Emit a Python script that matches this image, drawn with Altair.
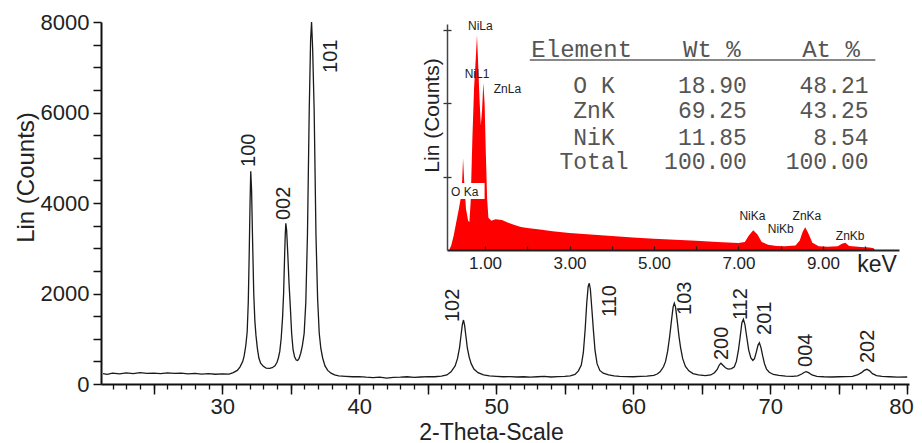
import altair as alt
import pandas as pd

# ---------------- data: XRD pattern (2-theta, counts) ----------------
two_theta = [21.3, 21.6, 22.0, 22.5, 23.0, 23.5, 24.0, 24.5, 25.0, 25.5, 26.0, 26.5, 27.0, 27.5, 28.0, 28.5,
             29.0, 29.5, 30.0, 30.5, 30.8, 31.1, 31.3, 31.5, 31.6, 31.72, 31.82, 31.9, 31.97, 32.03, 32.08,
             32.14, 32.22, 32.3, 32.38, 32.46, 32.56, 32.67, 32.8, 33.0, 33.2, 33.45, 33.65, 33.85, 34.0,
             34.1, 34.2, 34.3, 34.4, 34.48, 34.55, 34.6, 34.64, 34.7, 34.78, 34.88, 34.97, 35.07, 35.17,
             35.28, 35.4, 35.5, 35.6, 35.73, 35.85, 35.98, 36.1, 36.22, 36.35, 36.45, 36.52, 36.6, 36.71,
             36.84, 36.96, 37.08, 37.2, 37.33, 37.5, 37.7, 37.94, 38.2, 38.5, 39.0, 39.5, 40.0, 40.5, 41.0,
             41.5, 42.0, 42.5, 43.0, 43.5, 44.0, 44.5, 45.0, 45.5, 46.0, 46.4, 46.7, 47.0, 47.17, 47.32,
             47.42, 47.52, 47.61, 47.69, 47.79, 47.89, 48.02, 48.17, 48.37, 48.67, 49.07, 49.5, 50.0, 50.5,
             51.0, 51.5, 52.0, 52.5, 53.0, 53.5, 54.0, 54.5, 55.0, 55.4, 55.75, 56.0, 56.21, 56.36, 56.49,
             56.61, 56.71, 56.79, 56.87, 56.97, 57.09, 57.21, 57.36, 57.56, 57.81, 58.2, 58.6, 59.0, 59.5,
             60.0, 60.5, 61.0, 61.5, 61.75, 61.96, 62.21, 62.36, 62.51, 62.66, 62.81, 62.91, 63.0, 63.09,
             63.21, 63.34, 63.46, 63.61, 63.81, 64.06, 64.36, 64.76, 65.26, 65.66, 65.93, 66.13, 66.28,
             66.4, 66.53, 66.73, 66.93, 67.18, 67.38, 67.53, 67.68, 67.81, 67.93, 68.04, 68.15, 68.28,
             68.43, 68.58, 68.73, 68.85, 68.98, 69.11, 69.21, 69.33, 69.45, 69.58, 69.73, 69.93, 70.23,
             70.63, 71.13, 71.63, 72.0, 72.3, 72.5, 72.63, 72.8, 73.05, 73.4, 73.9, 74.5, 75.0, 75.5, 76.0,
             76.36, 76.66, 76.86, 77.06, 77.26, 77.46, 77.76, 78.16, 78.7, 79.3, 80.0]
counts = [230, 215, 240, 225, 245, 230, 250, 235, 240, 230, 245, 235, 240, 225, 235, 220,
          230, 215, 225, 220, 250, 300, 380, 500, 620, 850, 1150, 1800, 2900, 4000, 4700,
          4300, 3100, 2000, 1400, 1080, 800, 580, 460, 390, 350, 345, 360, 400, 480,
          580, 720, 1000, 1450, 2000, 2800, 3300, 3550, 3400, 2900, 2200, 1700, 1100, 760,
          600, 530, 520, 560, 680, 850, 1120, 1800, 3300, 6050, 7600, 8000, 7400, 6050,
          3320, 1900, 1120, 780, 575, 400, 300, 240, 200, 180, 170, 160, 165, 150, 140,
          150, 130, 145, 150, 160, 145, 155, 165, 160, 175, 200, 270, 400, 560, 800,
          1050, 1300, 1414, 1300, 1050, 800, 600, 450, 330, 250, 200, 180, 170, 160,
          165, 155, 160, 150, 160, 170, 155, 165, 170, 180, 210, 290, 420, 700, 1200,
          1800, 2150, 2225, 2100, 1700, 1200, 750, 450, 300, 240, 200, 180, 170, 165,
          160, 170, 175, 190, 220, 270, 380, 500, 720, 1050, 1450, 1700, 1785, 1700,
          1400, 1050, 800, 560, 390, 290, 230, 200, 185, 200, 250, 320, 420,
          460, 420, 360, 330, 340, 380, 500, 750, 1050, 1350, 1430, 1320, 1050,
          750, 580, 520, 560, 700, 860, 910, 800, 620, 450, 330, 260, 210,
          190, 175, 170, 180, 220, 260, 272, 250, 200, 170, 160, 155, 160, 165, 170,
          200, 250, 300, 325, 290, 230, 185, 170, 160, 150, 155]

hkl = ["100", "002", "101", "102", "110", "103", "200", "112", "201", "004", "202"]
hkl_x = [31.97, 34.49, 37.96, 46.82, 58.28, 63.80, 66.46, 67.85, 69.64, 72.59, 77.12]
hkl_y = [4796, 3624, 6873, 1370, 1481, 1525, 530, 1414, 1083, 376, 464]

# ---------------- data: EDS spectrum (keV, counts) ----------------
kev = [0.15, 0.2, 0.26, 0.32, 0.38, 0.43, 0.46, 0.48, 0.51, 0.55, 0.6, 0.63, 0.66, 0.7, 0.74, 0.78,
       0.81, 0.84, 0.87, 0.9, 0.93, 0.96, 0.99, 1.02, 1.05, 1.08, 1.15, 1.25, 1.4, 1.55, 1.7, 1.85,
       2.0, 2.3, 2.6, 3.0, 3.5, 4.0, 4.5, 5.0, 5.5, 6.0, 6.5, 7.0, 7.15, 7.25, 7.35, 7.45, 7.55, 7.7,
       7.9, 8.1, 8.35, 8.45, 8.52, 8.58, 8.65, 8.75, 8.9, 9.1, 9.35, 9.45, 9.53, 9.62, 9.9, 10.1,
       10.2, 10.23]
eds = [0, 60, 200, 380, 560, 720, 950, 1250, 900, 560, 400, 380, 650, 1500, 2200, 2600,
       2930, 2500, 2050, 1700, 1900, 2280, 2000, 1300, 700, 440, 400, 420, 410, 370, 340, 315,
       300, 280, 255, 230, 210, 190, 170, 155, 140, 125, 110, 95, 110, 200, 270, 210, 110, 70,
       55, 50, 60, 130, 250, 310, 230, 100, 50, 45, 50, 85, 100, 55, 40, 35,
       25, 0]

eds_lines = ["NiLa", "NiL1", "ZnLa", "O Ka", "NiKa", "NiKb", "ZnKa", "ZnKb"]
eds_line_kev = [0.89, 0.81, 1.53, 0.52, 7.33, 8.0, 8.62, 9.645]
eds_line_cnt = [2998, 2344, 2139, 736, 409, 232, 409, 136]

# ---------------- data: composition table ----------------
elements = ["O K", "ZnK", "NiK", "Total"]
wt_pct = [18.90, 69.25, 11.85, 100.00]
at_pct = [48.21, 43.25, 8.54, 100.00]
headers = ["Element", "Wt %", "At %"]

# ---------------- layout (inset coordinates are keV / counts) ----------------
W, H = 808, 362
SANS = "Liberation Sans, Arial, sans-serif"
MONO = "Courier New, Liberation Mono, monospace"
row_c = [2145, 1798, 1431, 1100]
head_c = 2634
head_k = [3.29, 6.37, 9.19]
col_elem_k, col_wt_k, col_at_k = 3.58, 7.2, 10.08

xs_main = alt.Scale(domain=[21.15, 80.13], nice=False, zero=False)
ys_main = alt.Scale(domain=[0, 8000], nice=False, zero=False)
xs_in = alt.Scale(domain=[0.1, 10.8], range=[346, 798], nice=False, zero=False)
ys_in = alt.Scale(domain=[0, 3080], range=[228, 2], nice=False, zero=False)

df_main = pd.DataFrame({"t": two_theta, "c": counts})
df_hkl = pd.DataFrame({"x": hkl_x, "y": hkl_y, "hkl": hkl})
df_eds = pd.DataFrame({"k": kev, "c": eds})
df_lines = pd.DataFrame({"k": eds_line_kev, "c": eds_line_cnt, "name": eds_lines})
df_box = pd.DataFrame({"x0": [0.12], "x1": [0.99], "y0": [694], "y1": [912]})

df_head = pd.DataFrame({"k": head_k, "c": [head_c] * 3, "txt": headers})
df_center = pd.DataFrame({"k": [col_elem_k] * 4, "c": row_c, "txt": elements})
df_right = pd.DataFrame({
    "k": [col_wt_k] * 4 + [col_at_k] * 4,
    "c": row_c + row_c,
    "txt": [f"{v:.2f}" for v in wt_pct] + [f"{v:.2f}" for v in at_pct],
})
df_rule = pd.DataFrame({"k0": [2.06], "k1": [10.24], "c": [2590]})
df_kev = pd.DataFrame({"k": [10.28], "c": [0], "txt": ["keV"]})

# ---------------- main pattern ----------------
main = alt.Chart(df_main).mark_line(color="#1a1a1a", strokeWidth=1.3).encode(
    x=alt.X("t:Q", scale=xs_main, axis=alt.Axis(
        orient="bottom", values=list(range(25, 81, 5)), tickSize=10, tickWidth=1.5, tickColor="#111",
        domainColor="#111", domainWidth=2, format="d",
        labelExpr="datum.value % 10 === 0 ? datum.label : ''",
        labelFontSize=22, labelColor="#222", labelPadding=2, labelFlush=3, labelFlushOffset=6,
        labelOverlap=False,
        grid=False, title="2-Theta-Scale", titleFontSize=23, titleFontWeight="normal", titleColor="#222",
        titleX=390, titleY=55, titleAlign="center", titleBaseline="alphabetic")),
    y=alt.Y("c:Q", scale=ys_main, axis=alt.Axis(
        orient="left", values=list(range(0, 8001, 500)), tickSize=8, tickWidth=1.5, tickColor="#111",
        domainColor="#111", domainWidth=2, format="d",
        labelExpr="datum.value % 2000 === 0 ? datum.label : ''",
        labelFontSize=22, labelColor="#222", labelPadding=4, labelFlush=False, labelOverlap=False,
        grid=False, title="Lin (Counts)", titleFontSize=24, titleFontWeight="normal", titleColor="#222",
        titleAngle=270, titleX=-68, titleY=155, titleAlign="center", titleBaseline="alphabetic")),
)

labels = alt.Chart(df_hkl).mark_text(angle=270, align="left", baseline="middle", fontSize=20,
                                     color="#222", font=SANS).encode(
    x=alt.X("x:Q", scale=xs_main, axis=alt.Axis(
        orient="bottom", values=list(range(22, 81)), tickSize=5, tickWidth=1.3, tickColor="#111",
        labels=False, domain=False, grid=False, title="")),
    y=alt.Y("y:Q", scale=ys_main, axis=None),
    text="hkl:N",
)

# ---------------- inset EDS spectrum ----------------
inset_area = alt.Chart(df_eds).mark_area(color="#ff0000", interpolate="linear").encode(
    x=alt.X("k:Q", scale=xs_in, axis=alt.Axis(
        orient="bottom", offset=-134, values=list(range(1, 11)), ticks=False, format=".2f",
        labelExpr="datum.value % 2 === 1 ? datum.label : ''",
        labelFontSize=17, labelColor="#222", labelPadding=5, labelFlush=False, labelOverlap=False,
        domainColor="#222", domainWidth=2, grid=False, title="", zindex=1)),
    y=alt.Y("c:Q", scale=ys_in, axis=alt.Axis(
        orient="left", offset=-346, values=[1000, 2000, 3000], tickSize=4, tickWidth=1.3,
        tickColor="#333", labels=False, domainColor="#444", domainWidth=1.5, grid=False,
        title="Lin (Counts)", titleFontSize=21, titleFontWeight="normal", titleColor="#222",
        titleAngle=270, titleX=-9, titleY=93, titleAlign="center", titleBaseline="alphabetic",
        zindex=1)),
    y2=alt.datum(0),
)

box = alt.Chart(df_box).mark_rect(color="white").encode(
    x=alt.X("x0:Q", scale=xs_in, axis=alt.Axis(
        orient="top", offset=-228, values=list(range(1, 11)), tickSize=4, tickWidth=1.3,
        tickColor="#222", labels=False, domain=False, grid=False, title="", zindex=1)),
    x2="x1:Q",
    y=alt.Y("y0:Q", scale=ys_in, axis=alt.Axis(
        orient="right", offset=-462, values=[1000, 2000, 3000], tickSize=4, tickWidth=1.3,
        tickColor="#333", labels=False, domain=False, grid=False, title="", zindex=1)),
    y2="y1:Q",
)

eds_lbl = alt.Chart(df_lines).mark_text(fontSize=12, align="center", baseline="alphabetic",
                                        color="#222", font=SANS).encode(
    x=alt.X("k:Q", scale=xs_in, axis=None),
    y=alt.Y("c:Q", scale=ys_in, axis=None),
    text="name:N",
)

tbl_head = alt.Chart(df_head).mark_text(fontSize=24, align="center", baseline="alphabetic",
                                        color="#555", font=MONO).encode(
    x=alt.X("k:Q", scale=xs_in, axis=None),
    y=alt.Y("c:Q", scale=ys_in, axis=None),
    text="txt:N",
)
tbl_center = alt.Chart(df_center).mark_text(fontSize=23, align="center", baseline="alphabetic",
                                            color="#555", font=MONO).encode(
    x=alt.X("k:Q", scale=xs_in, axis=None),
    y=alt.Y("c:Q", scale=ys_in, axis=None),
    text="txt:N",
)
tbl_right = alt.Chart(df_right).mark_text(fontSize=23, align="right", baseline="alphabetic",
                                          color="#555", font=MONO).encode(
    x=alt.X("k:Q", scale=xs_in, axis=None),
    y=alt.Y("c:Q", scale=ys_in, axis=None),
    text="txt:N",
)
rule = alt.Chart(df_rule).mark_rule(color="#888", strokeWidth=2).encode(
    x=alt.X("k0:Q", scale=xs_in, axis=None),
    x2="k1:Q",
    y=alt.Y("c:Q", scale=ys_in, axis=None),
)
kev_txt = alt.Chart(df_kev).mark_text(fontSize=23, align="center", baseline="alphabetic", dy=22,
                                      color="#222", font=SANS).encode(
    x=alt.X("k:Q", scale=xs_in, axis=None),
    y=alt.Y("c:Q", scale=ys_in, axis=None),
    text="txt:N",
)

chart = alt.layer(
    main, labels, inset_area, box, eds_lbl, tbl_head, tbl_center, tbl_right, rule, kev_txt
).resolve_scale(
    x="independent", y="independent"
).properties(
    width=W, height=H,
    autosize=alt.AutoSizeParams(type="none"),
    padding={"left": 93, "top": 14, "right": 5, "bottom": 62},
).configure_view(
    stroke=None
).configure_axis(
    labelFont=SANS, titleFont=SANS
)

chart.save("out.html", embed_options={"renderer": "svg", "actions": False})
